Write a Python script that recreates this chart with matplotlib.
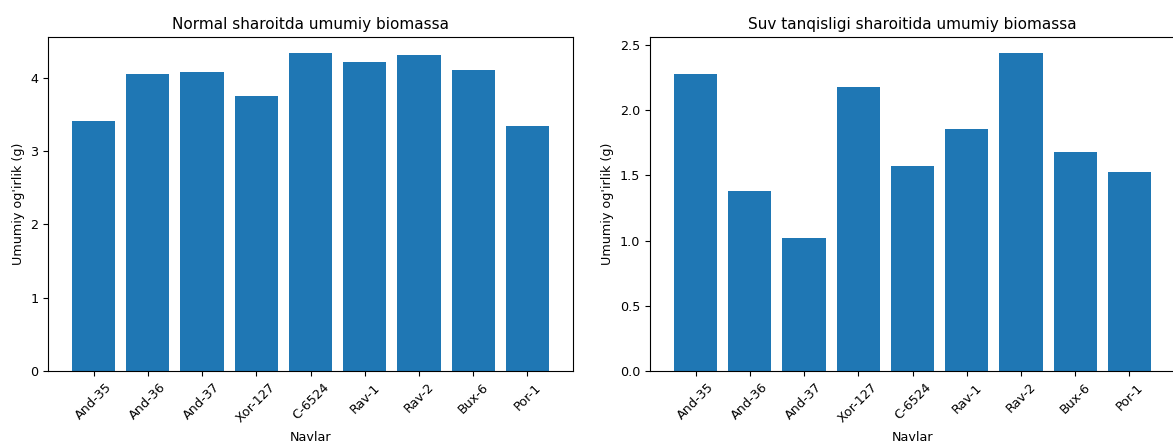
import matplotlib.pyplot as plt

# Navlar va umumiy biomassa (g)
navlar = ["And-35", "And-36", "And-37", "Xor-127", "C-6524", "Rav-1", "Rav-2", "Bux-6", "Por-1"]
normal = [3.41, 4.05, 4.08, 3.75, 4.34, 4.22, 4.31, 4.11, 3.34]
suv_tanqis = [2.28, 1.38, 1.02, 2.18, 1.57, 1.86, 2.44, 1.68, 1.53]

plt.rcParams["font.size"] = 9.2
plt.rcParams["axes.titlesize"] = 11

fig = plt.figure(figsize=(11.73, 4.43), dpi=100)
W, H = 1173, 443

ax1 = fig.add_axes([48 / W, (H - 371) / H, 525 / W, 334 / H])
ax2 = fig.add_axes([650 / W, (H - 371) / H, 525 / W, 334 / H])

ax1.bar(navlar, normal, color="#1f77b4")
ax1.set_title("Normal sharoitda umumiy biomassa")
ax1.set_xlabel("Navlar")
ax1.set_ylabel("Umumiy og'irlik (g)")
ax1.tick_params(axis="x", rotation=45)

ax2.bar(navlar, suv_tanqis, color="#1f77b4")
ax2.set_title("Suv tanqisligi sharoitida umumiy biomassa")
ax2.set_xlabel("Navlar")
ax2.set_ylabel("Umumiy og'irlik (g)")
ax2.tick_params(axis="x", rotation=45)

plt.savefig("out.png", dpi=100)
